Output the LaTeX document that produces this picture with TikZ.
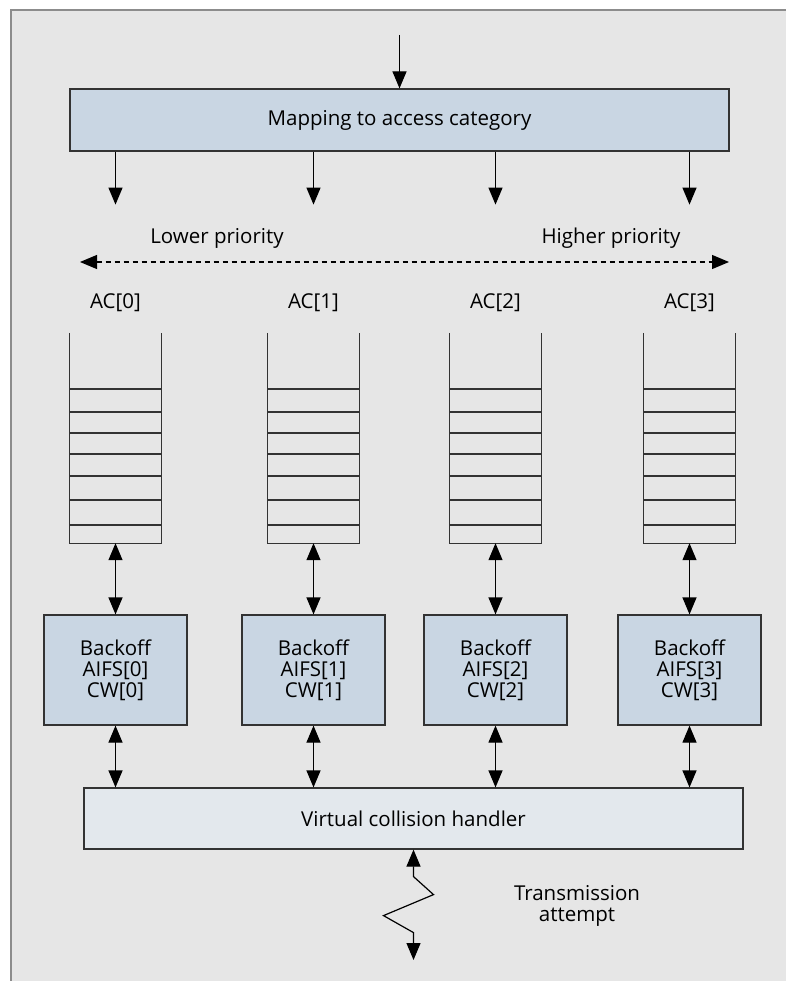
\documentclass[tikz,border=0pt]{standalone}
\usepackage{fontspec}
\setmainfont{Open Sans}
\usetikzlibrary{arrows.meta}
\definecolor{panel}{HTML}{E6E6E6}
\definecolor{boxblue}{HTML}{C9D6E3}
\definecolor{boxpale}{HTML}{E3E8ED}
\definecolor{edge}{HTML}{333333}
\definecolor{frame}{HTML}{8C8C8C}
\begin{document}
\begin{tikzpicture}[x=1pt,y=-1pt,
  font=\fontsize{20.5}{21}\selectfont,
  conn/.style={line width=1.2pt, draw=black},
  arr/.style={conn, -{Triangle[width=14pt,length=17pt]}},
  darr/.style={conn, {Triangle[width=14pt,length=17pt]}-{Triangle[width=14pt,length=17pt]}},
  blk/.style={draw=edge, line width=1.2pt, inner sep=0pt, align=center},
  label/.style={inner sep=0pt, align=center},
  queuebox/.style={inner sep=0pt, minimum width=91pt, minimum height=210pt},
  qline/.style={draw=edge, line width=1.2pt}]
  \useasboundingbox (0,0) rectangle (786,981);
  % page and grey panel
  \fill[white] (0,0) rectangle (786,981);
  \fill[panel] (11,10) rectangle (786,981);
  \draw[frame, line width=2pt] (11,981) -- (11,10) -- (786,10);

  % mapping stage
  \node[blk, fill=boxblue, minimum width=659pt, minimum height=62pt] (map) at (399.5,120) {Mapping to access category};
  \coordinate (src) at (399.5,35);
  \draw[arr] (src) -- (map.north);

  % priority scale
  \node[label] (lowp) at (217,238) {Lower priority};
  \node[label] (highp) at (611,238) {Higher priority};
  \coordinate (pl) at (80,262);
  \coordinate (ph) at (729,262);
  \draw[darr,dash pattern=on 5pt off 4pt] (pl) -- (ph);

  % collision handler
  \node[blk, fill=boxpale, minimum width=659pt, minimum height=61pt] (vch) at (413.5,818.5) {Virtual collision handler};

  % one column per access category
  \foreach \x [count=\i from 0] in {115.5,313.5,495.5,689.5} {
    \draw[arr] (map.south -| \x,0) -- ++(0,53);
    \node[label] (ac\i) at (\x,303) {AC[\i]};
    \node[queuebox] (q\i) at (\x,438) {};
    \draw[qline] (q\i.north west) -- (q\i.south west) -- (q\i.south east) -- (q\i.north east);
    \foreach \y in {389,412,433,454,476,500,525}
      \draw[qline] (q\i.west |- 0,\y) -- (q\i.east |- 0,\y);
    \node[blk, fill=boxblue, minimum width=143pt, minimum height=110pt] (b\i) at (\x,670) {Backoff\\AIFS[\i]\\CW[\i]};
    \draw[darr] (q\i.south) -- (b\i.north);
    \draw[darr] (b\i.south) -- (b\i.south |- vch.north);
  }

  % transmission attempt (zigzag link)
  \coordinate (tx) at (413.5,960);
  \draw[darr] (vch.south) -- ++(0,27) -- ++(20,18) -- ++(-50,21) -- ++(30,17) -- (tx);
  \node[label] (txl) at (577,906) {Transmission\\attempt};
\end{tikzpicture}
\end{document}
